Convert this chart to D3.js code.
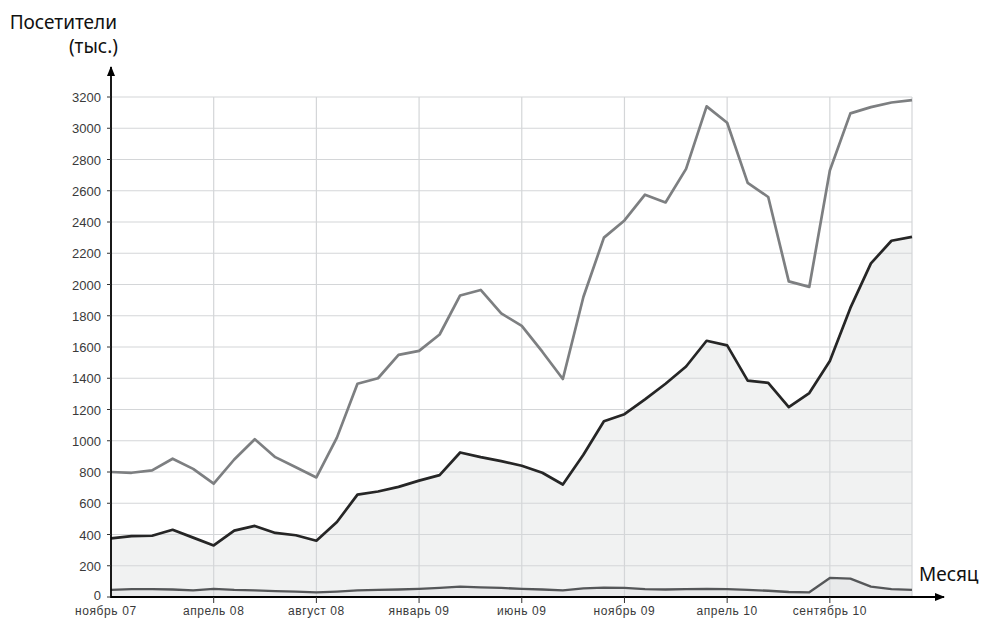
<!DOCTYPE html>
<html lang="ru">
<head>
<meta charset="UTF-8">
<title>Посетители по месяцам</title>
<style>
    body { margin: 0; background: #fff; }
    .grid line { stroke: #d4d6d8; stroke-width: 1.2px; }
    .y-label { font: 13px "Liberation Sans", Arial, sans-serif; fill: #3a3a3a; }
    .x-label { font: 12px "Liberation Sans", Arial, sans-serif; fill: #3a3a3a; letter-spacing: 0.6px; }
    .title { font: 19px "Noto Sans", sans-serif; fill: #111; }
</style>
</head>
<body>
<svg id="chart" width="981" height="618"></svg>
<script src="https://d3js.org/d3.v7.min.js"></script>
<script>
// monthly data, ноябрь 07 .. февраль 11 (40 months)
const months = d3.range(40);
const xTickIdx = [0, 5, 10, 15, 20, 25, 30, 35];
const xTickLabels = ["ноябрь 07", "апрель 08", "август 08", "январь 09", "июнь 09", "ноябрь 09", "апрель 10", "сентябрь 10"];
const yTicks = d3.range(0, 3201, 200);

const totalVisits = [800, 795, 810, 885, 820, 725, 880, 1010, 895, 830,
    765, 1020, 1365, 1400, 1550, 1575, 1680, 1930, 1965, 1815,
    1735, 1570, 1395, 1920, 2300, 2410, 2575, 2525, 2740, 3140,
    3035, 2650, 2560, 2020, 1985, 2730, 3095, 3135, 3165, 3180];
const uniqueVisits = [375, 390, 392, 430, 380, 330, 425, 455, 410, 395,
    360, 480, 655, 675, 705, 745, 780, 925, 895, 870,
    840, 795, 720, 910, 1125, 1170, 1265, 1365, 1475, 1640,
    1610, 1385, 1370, 1215, 1305, 1510, 1850, 2135, 2280, 2305];
const otherVisits = [45, 50, 50, 48, 42, 52, 45, 42, 38, 35,
    30, 35, 42, 45, 48, 52, 58, 66, 62, 58,
    52, 48, 42, 55, 60, 58, 50, 48, 50, 52,
    50, 45, 40, 32, 30, 122, 118, 66, 50, 45];

const svg = d3.select("#chart");
const pLeft = 111, pRight = 912, pTop = 97, pBottom = 597;

const x = d3.scaleLinear().domain([0, 39]).range([pLeft, pRight]);
const y = d3.scaleLinear().domain([0, 3200]).range([pBottom, pTop]);

// fills
svg.append("path")
    .datum(months)
    .attr("fill", "#f1f2f2")
    .attr("d", d3.area().x(i => x(i)).y0(pBottom).y1(i => y(uniqueVisits[i])));
svg.append("path")
    .datum(months)
    .attr("fill", "#e9eaeb")
    .attr("d", d3.area().x(i => x(i)).y0(pBottom).y1(i => y(otherVisits[i])));

// grid
const grid = svg.append("g").attr("class", "grid");
grid.selectAll(".h").data(yTicks.filter(d => d > 0)).enter().append("line")
    .attr("x1", pLeft).attr("x2", pRight)
    .attr("y1", d => y(d)).attr("y2", d => y(d));
grid.selectAll(".v").data(xTickIdx.filter(d => d > 0).concat([39])).enter().append("line")
    .attr("x1", d => x(d)).attr("x2", d => x(d))
    .attr("y1", pTop).attr("y2", pBottom);

// lines
const line = arr => d3.line().x(i => x(i)).y(i => y(arr[i]));
svg.append("path").datum(months).attr("fill", "none")
    .attr("stroke", "#7d7f81").attr("stroke-width", 2.7).attr("stroke-linejoin", "round")
    .attr("d", line(totalVisits));
svg.append("path").datum(months).attr("fill", "none")
    .attr("stroke", "#262626").attr("stroke-width", 2.7).attr("stroke-linejoin", "round")
    .attr("d", line(uniqueVisits));
svg.append("path").datum(months).attr("fill", "none")
    .attr("stroke", "#555759").attr("stroke-width", 2.3).attr("stroke-linejoin", "round")
    .attr("d", line(otherVisits));

// axes with arrows
svg.append("defs").append("marker")
    .attr("id", "arrow").attr("viewBox", "0 0 10 10")
    .attr("refX", 9).attr("refY", 5)
    .attr("markerWidth", 10).attr("markerHeight", 10)
    .attr("markerUnits", "userSpaceOnUse")
    .attr("orient", "auto")
    .append("path").attr("d", "M0,1 L10,5 L0,9 Z").attr("fill", "#000");

svg.append("line")
    .attr("x1", pLeft).attr("x2", pLeft).attr("y1", pBottom + 1).attr("y2", 67)
    .attr("stroke", "#000").attr("stroke-width", 1.8).attr("marker-end", "url(#arrow)");
svg.append("line")
    .attr("x1", pLeft - 1).attr("x2", 944).attr("y1", pBottom).attr("y2", pBottom)
    .attr("stroke", "#000").attr("stroke-width", 1.8).attr("marker-end", "url(#arrow)");

// y ticks
const yAx = svg.append("g");
yAx.selectAll("line").data(yTicks).enter().append("line")
    .attr("x1", pLeft - 4).attr("x2", pLeft)
    .attr("y1", d => y(d)).attr("y2", d => y(d))
    .attr("stroke", "#333");
yAx.selectAll("text").data(yTicks).enter().append("text")
    .attr("class", "y-label")
    .attr("x", 101).attr("y", d => d === 0 ? y(d) + 3 : y(d) + 5)
    .attr("text-anchor", "end")
    .text(d => d);

// x ticks
const xAx = svg.append("g");
xAx.selectAll("line").data(xTickIdx.filter(d => d > 0)).enter().append("line")
    .attr("x1", d => x(d)).attr("x2", d => x(d))
    .attr("y1", pBottom).attr("y2", pBottom + 6)
    .attr("stroke", "#333");
xAx.selectAll("text").data(xTickIdx).enter().append("text")
    .attr("class", "x-label")
    .attr("x", (d, i) => i === 0 ? x(d) - 36 : x(d))
    .attr("y", 615)
    .attr("text-anchor", (d, i) => i === 0 ? "start" : "middle")
    .text((d, i) => xTickLabels[i]);

// titles
svg.append("text").attr("class", "title").attr("x", 117).attr("y", 29)
    .attr("text-anchor", "end").text("Посетители");
svg.append("text").attr("class", "title").attr("x", 118).attr("y", 53)
    .attr("text-anchor", "end").text("(тыс.)");
svg.append("text").attr("class", "title").attr("x", 919).attr("y", 581)
    .text("Месяц");
</script>
</body>
</html>
